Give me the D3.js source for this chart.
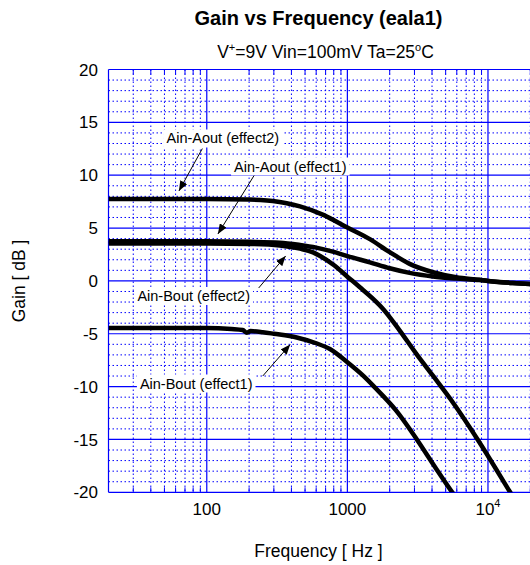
<!DOCTYPE html>
<html><head><meta charset="utf-8">
<script src="https://cdn.jsdelivr.net/npm/d3@7"></script>
<style>
body{margin:0;background:#fff}
text{font-family:"Liberation Sans",Arial,Helvetica,sans-serif;fill:#000}
</style></head>
<body><svg id="c" width="530" height="565"></svg>
<script>
// ---- data (frequency in Hz, gain in dB) ----
const freqAout2 = [20,100,200,268,370,460,674,1000,1445,2000,2771,4060,5950,8700,10000,15000,20000,30000];
const gainAout2 = [7.75,7.75,7.7,7.6,7.35,7.05,6.25,5.05,3.95,2.72,1.61,0.82,0.34,0.1,0.0,-0.2,-0.3,-0.4];

const freqAout1 = [20,100,200,330,460,600,800,1000,1445,2000,2770,4060,5950,8700,10000,15000,20000,30000];
const gainAout1 = [3.75,3.75,3.7,3.62,3.4,3.15,2.75,2.35,1.75,1.2,0.76,0.42,0.22,0.08,0.0,-0.2,-0.3,-0.4];

const freqBout2 = [20,100,200,330,460,570,640,800,1000,1227,1524,1794,2357,3093,4060,5630,8440,14390,16000];
const gainBout2 = [3.55,3.55,3.5,3.35,3.05,2.7,2.35,1.5,0.4,-0.6,-1.7,-2.65,-4.7,-6.9,-8.97,-11.5,-15,-20,-21];

const freqBout1 = [20,100,150,180,193,205,250,300,436,600,751,1000,1294,1560,2232,3120,4200,5570,6000];
const gainBout1 = [-4.45,-4.45,-4.55,-4.65,-4.9,-4.75,-4.85,-5.0,-5.35,-5.9,-6.45,-7.7,-8.97,-10.05,-12.3,-15,-17.6,-20,-20.6];

const yTicks = [20,15,10,5,0,-5,-10,-15,-20];
const xTickValues = [100,1000,10000];
const xTickLabels = [["100",""],["1000",""],["10","4"]];

// annotations: label text, label (freq, dB baseline), arrow tail (freq,dB), arrow tip (freq,dB)
const annText = ["Ain-Aout (effect2)","Ain-Aout (effect1)","Ain-Bout (effect2)","Ain-Bout (effect1)"];
const annLabelF = [130,393,80.7,84.1];
const annLabelG = [13.0,10.35,-1.9,-10.18];
const annTailF = [93,217,234,250];
const annTailG = [12.52,9.97,-0.67,-9.0];
const annTipF = [63.4,120,364,392];
const annTipG = [8.51,4.44,2.36,-6.02];

// ---- layout ----
const svg = d3.select("#c");
const L = 108.5, T = 69.5, B = 492.3, dec = 140.6;
const x = d3.scaleLog().domain([20,100000]).range([L, L + dec*Math.log10(100000/20)]);
const y = d3.scaleLinear().domain([-20,20]).range([B, T]);
const R = x(100000);
const blue = "#0000ff";

svg.append("rect").attr("width",530).attr("height",565).attr("fill","#fff");

const grid = svg.append("g").attr("class","grid");
// minor x
const minorX = [];
[10,100,1000,10000].forEach(d => { for (let k=2;k<=9;k++){ const f=k*d; if (f>20 && f<100000) minorX.push(f);} });
grid.selectAll("line.mx").data(minorX).join("line").attr("class","mx")
  .attr("x1",d=>x(d)).attr("x2",d=>x(d)).attr("y1",T).attr("y2",B)
  .attr("stroke",blue).attr("stroke-width",1).attr("stroke-dasharray","1.5,2.5");
// minor y
const minorY = d3.range(-19,20).filter(v => v % 5 !== 0);
grid.selectAll("line.my").data(minorY).join("line").attr("class","my")
  .attr("x1",L).attr("x2",R).attr("y1",d=>y(d)).attr("y2",d=>y(d))
  .attr("stroke",blue).attr("stroke-width",1).attr("stroke-dasharray","1.5,2.5");
// minor ticks (inward)
grid.selectAll("line.tb").data(minorX).join("line").attr("class","tb")
  .attr("x1",d=>x(d)).attr("x2",d=>x(d)).attr("y1",B).attr("y2",B-5)
  .attr("stroke",blue);
grid.selectAll("line.tt").data(minorX).join("line").attr("class","tt")
  .attr("x1",d=>x(d)).attr("x2",d=>x(d)).attr("y1",T).attr("y2",T+5)
  .attr("stroke",blue);
// major
grid.selectAll("line.Mx").data([100,1000,10000]).join("line").attr("class","Mx")
  .attr("x1",d=>x(d)).attr("x2",d=>x(d)).attr("y1",T).attr("y2",B)
  .attr("stroke",blue).attr("stroke-width",1.2);
grid.selectAll("line.My").data(yTicks).join("line").attr("class","My")
  .attr("x1",L).attr("x2",R).attr("y1",d=>y(d)).attr("y2",d=>y(d))
  .attr("stroke",blue).attr("stroke-width",1.2);
// border
grid.append("line").attr("x1",L).attr("x2",L).attr("y1",T).attr("y2",B).attr("stroke",blue).attr("stroke-width",1.2);

// ---- curves ----
svg.append("clipPath").attr("id","clip").append("rect").attr("x",L).attr("y",T).attr("width",R-L).attr("height",B-T);
const line = d3.line().x(d=>x(d[0])).y(d=>y(d[1])).curve(d3.curveMonotoneX);
const series = [[freqAout2,gainAout2],[freqAout1,gainAout1],[freqBout2,gainBout2],[freqBout1,gainBout1]];
const cg = svg.append("g").attr("clip-path","url(#clip)");
series.forEach(([f,g]) => {
  cg.append("path").datum(f.map((v,i)=>[v,g[i]]))
    .attr("d",line).attr("fill","none").attr("stroke","#000")
    .attr("stroke-width",4.5).attr("stroke-linejoin","round").attr("stroke-linecap","butt");
});

// ---- axes text ----
svg.selectAll("text.yt").data(yTicks).join("text").attr("class","yt")
  .attr("x",98).attr("y",d=>y(d)).attr("dy","0.36em").attr("text-anchor","end")
  .attr("font-size",17).text(d=>d);
xTickValues.forEach((v,i) => {
  const t = svg.append("text").attr("x",x(v)).attr("y",515).attr("text-anchor","middle").attr("font-size",17);
  t.append("tspan").text(xTickLabels[i][0]);
  if (xTickLabels[i][1]) t.append("tspan").attr("dy",-8).attr("font-size",11).text(xTickLabels[i][1]);
});
svg.append("text").attr("x",318.5).attr("y",557).attr("text-anchor","middle").attr("font-size",17.5).text("Frequency [ Hz ]");
svg.append("text").attr("transform","translate(25,281) rotate(-90)").attr("text-anchor","middle").attr("font-size",17.5).text("Gain [ dB ]");

// title
svg.append("text").attr("x",318.5).attr("y",24.5).attr("text-anchor","middle").attr("font-size",20).attr("font-weight","bold").text("Gain vs Frequency (eala1)");
const st = svg.append("text").attr("x",325.5).attr("y",58).attr("text-anchor","middle").attr("font-size",17.5);
st.append("tspan").text("V");
st.append("tspan").attr("dy",-7).attr("font-size",11).text("+");
st.append("tspan").attr("dy",7).text("=9V Vin=100mV Ta=25");
st.append("tspan").attr("dy",-7).attr("font-size",11).text("o");
st.append("tspan").attr("dy",7).text("C");

// ---- annotations ----
const defs = svg.append("defs");
defs.append("marker").attr("id","ah").attr("viewBox","0 0 10 8").attr("refX",10).attr("refY",4)
  .attr("markerWidth",10).attr("markerHeight",8).attr("markerUnits","userSpaceOnUse").attr("orient","auto")
  .append("path").attr("d","M0,0L10,4L0,8Z").attr("fill","#000");
const ag = svg.append("g");
annText.forEach((s,i) => {
  const t = ag.append("text").attr("x",x(annLabelF[i])).attr("y",y(annLabelG[i]))
    .attr("text-anchor","middle").attr("font-size",14.5).text(s);
  const bb = t.node().getBBox();
  ag.insert("rect","text").attr("x",bb.x-3).attr("y",bb.y-1).attr("width",bb.width+6).attr("height",bb.height+2).attr("fill","#fff");
  ag.append("line").attr("x1",x(annTailF[i])).attr("y1",y(annTailG[i]))
    .attr("x2",x(annTipF[i])).attr("y2",y(annTipG[i]))
    .attr("stroke","#000").attr("stroke-width",1).attr("marker-end","url(#ah)");
});
</script></body></html>
